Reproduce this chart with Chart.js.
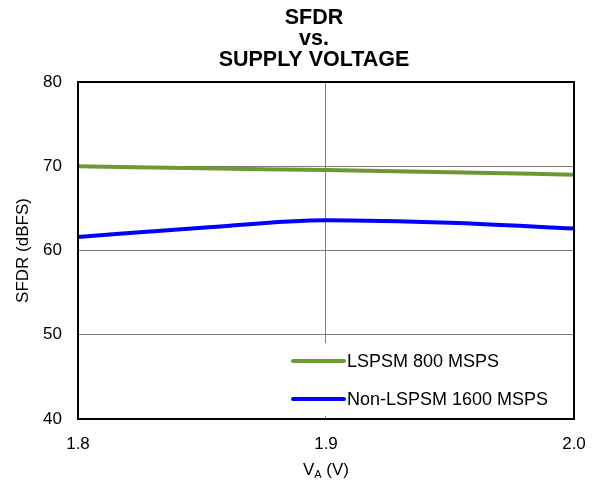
<!DOCTYPE html>
<html>
<head>
<meta charset="utf-8">
<script src="https://cdn.jsdelivr.net/npm/chart.js@4.4.0/dist/chart.umd.min.js"></script>
<style>
  body { margin: 0; background: #fff; }
  #wrap { width: 597px; height: 483px; }
</style>
</head>
<body>
<div id="wrap"><canvas id="ctx"></canvas></div>
<script>
const voltages = [1.8, 1.85, 1.9, 1.95, 2.0];
const lspsm800 = [70.0, 69.75, 69.55, 69.3, 69.0];
const nonLspsm1600 = [61.6, 62.7, 63.6, 63.3, 62.6];
const yTicks = [40, 50, 60, 70, 80];
const xTicks = [1.8, 1.9, 2.0];
const titleLines = ['SFDR', 'vs.', 'SUPPLY VOLTAGE'];

const FONT = 'Arial, "Liberation Sans", sans-serif';

const toPoints = (xs, ys) => xs.map((x, i) => ({ x: x, y: ys[i] }));

// legend drawn inside the plot, bottom right
const insideLegend = {
  id: 'insideLegend',
  afterDatasetsDraw(chart) {
    const c = chart.ctx;
    c.save();
    c.fillStyle = '#fff';
    c.fillRect(286, 343, 282, 73);
    chart.data.datasets.forEach((ds, i) => {
      const y = 361 + i * 38;
      c.strokeStyle = ds.borderColor;
      c.lineWidth = 4;
      c.lineCap = 'round';
      c.beginPath();
      c.moveTo(293, y);
      c.lineTo(344, y);
      c.stroke();
      c.fillStyle = '#000';
      c.font = '18px ' + FONT;
      c.textBaseline = 'middle';
      c.fillText(ds.label, 347, y + 1);
    });
    c.restore();
  }
};

// frame round the plot, chart title, x axis title with subscript
const frameAndTitle = {
  id: 'frameAndTitle',
  afterDraw(chart) {
    const a = chart.chartArea;
    const c = chart.ctx;
    c.save();
    c.strokeStyle = '#000';
    c.lineWidth = 2;
    c.strokeRect(a.left, a.top, a.right - a.left, a.bottom - a.top);

    c.fillStyle = '#000';
    c.textBaseline = 'middle';
    c.textAlign = 'center';
    c.font = 'bold 21.5px ' + FONT;
    [18.5, 39, 60].forEach((ty, i) => c.fillText(titleLines[i], 314, ty));

    const cx = (a.left + a.right) / 2;
    const y = 470;
    c.font = '17px ' + FONT;
    const w1 = c.measureText('V').width;
    c.font = '11px ' + FONT;
    const w2 = c.measureText('A').width;
    c.font = '17px ' + FONT;
    const w3 = c.measureText(' (V)').width;
    let x = cx - (w1 + w2 + w3) / 2;
    c.textAlign = 'left';
    c.fillText('V', x, y);
    x += w1;
    c.font = '11px ' + FONT;
    c.fillText('A', x, y + 5);
    x += w2;
    c.font = '17px ' + FONT;
    c.fillText(' (V)', x, y);
    c.restore();
  }
};

new Chart(document.getElementById('ctx'), {
  type: 'line',
  data: {
    datasets: [
      {
        label: 'LSPSM 800 MSPS',
        data: toPoints(voltages, lspsm800),
        borderColor: '#6b9a35',
        borderWidth: 4,
        pointRadius: 0,
        tension: 0.4,
        cubicInterpolationMode: 'monotone'
      },
      {
        label: 'Non-LSPSM 1600 MSPS',
        data: toPoints(voltages, nonLspsm1600),
        borderColor: '#0000ff',
        borderWidth: 4,
        pointRadius: 0,
        tension: 0.4,
        cubicInterpolationMode: 'monotone'
      }
    ]
  },
  options: {
    responsive: true,
    maintainAspectRatio: false,
    animation: false,
    layout: { padding: { left: 0, right: 23, top: 82, bottom: 0 } },
    plugins: {
      legend: { display: false },
      tooltip: { enabled: false },
      title: { display: false }
    },
    scales: {
      x: {
        type: 'linear',
        min: 1.8,
        max: 2.0,
        afterBuildTicks(axis) { axis.ticks = xTicks.map(v => ({ value: v })); },
        afterFit(axis) {
          axis.height = 64;
          axis.paddingLeft = 0;
          axis.paddingRight = 0;
        },
        ticks: {
          color: '#000',
          padding: 15,
          font: { family: FONT, size: 17 },
          callback: v => v.toFixed(1)
        },
        grid: { color: '#808080', lineWidth: 1, drawTicks: false },
        border: { color: '#000', width: 2 }
      },
      y: {
        min: 40,
        max: 80,
        afterBuildTicks(axis) { axis.ticks = yTicks.map(v => ({ value: v })); },
        afterFit(axis) {
          axis.width = 78;
          axis.paddingTop = 0;
          axis.paddingBottom = 0;
        },
        ticks: {
          color: '#000',
          padding: 16,
          font: { family: FONT, size: 17 }
        },
        grid: { color: '#808080', lineWidth: 1, drawTicks: false },
        border: { color: '#000', width: 2 },
        title: {
          display: true,
          text: 'SFDR (dBFS)',
          color: '#000',
          font: { family: FONT, size: 17 },
          padding: { top: 13, bottom: 0 }
        }
      }
    }
  },
  plugins: [insideLegend, frameAndTitle]
});
</script>
</body>
</html>
